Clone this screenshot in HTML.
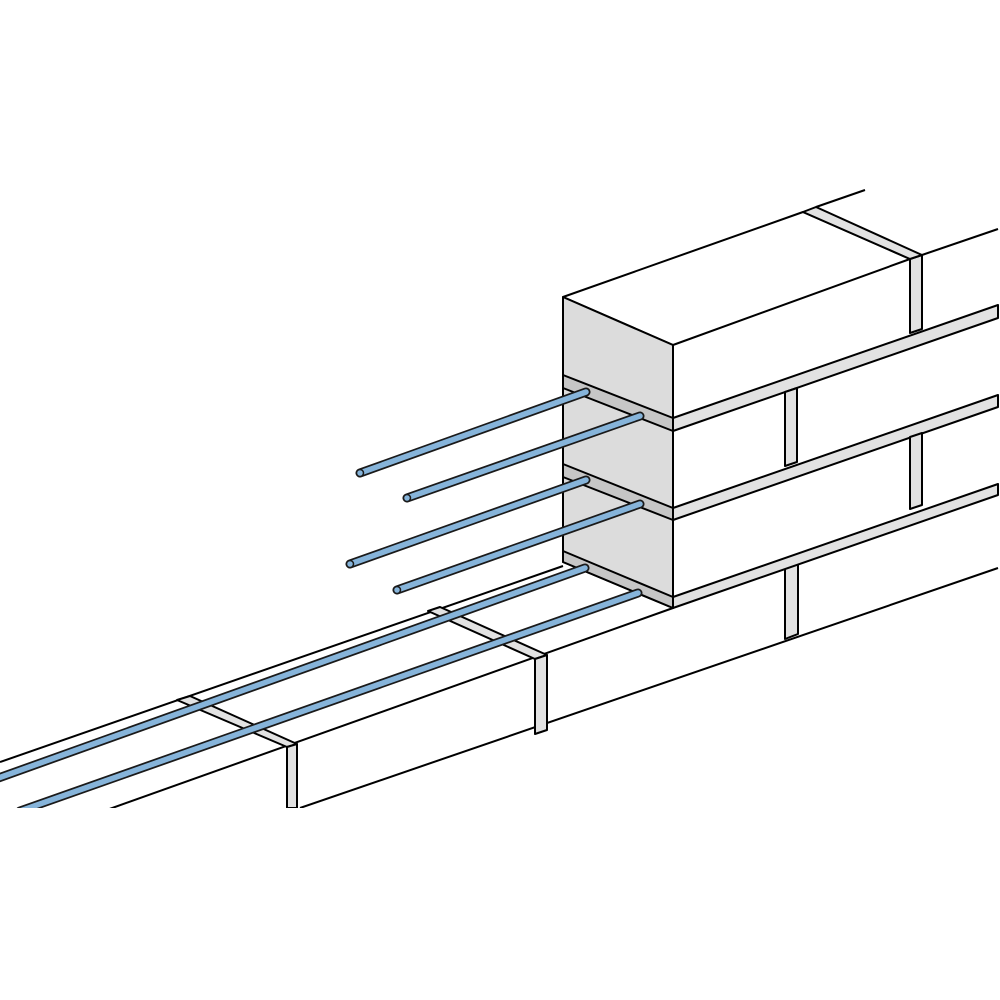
<!DOCTYPE html>
<html><head><style>html,body{margin:0;padding:0;background:#fff}svg{display:block}</style></head>
<body>
<svg width="1000" height="1000" viewBox="0 0 1000 1000" xmlns="http://www.w3.org/2000/svg">
<defs><clipPath id="c"><rect x="0" y="0" width="1000" height="808"/></clipPath></defs>
<g clip-path="url(#c)" stroke="#000" stroke-width="2" stroke-linejoin="round" fill="none">
<line x1="0" y1="762" x2="563" y2="566"/>
<line x1="0" y1="848" x2="673" y2="608"/>
<line x1="300" y1="808" x2="998" y2="568"/>
<polygon points="177,700 190,696 297,744 287,747" fill="#e2e2e2"/>
<polygon points="428,611 440,607 547,655 535,659" fill="#e2e2e2"/>
<polygon points="287,747 297,744 297,808 287,808" fill="#e2e2e2"/>
<polygon points="535,659 547,655 547,730 535,734" fill="#e2e2e2"/>
<polygon points="785,568 798,563 798,634 785,639" fill="#e2e2e2"/>
<polygon points="673,418 998,305 998,318 673,431" fill="#e2e2e2"/>
<polygon points="673,508 998,395 998,407 673,520" fill="#e2e2e2"/>
<polygon points="673,597 998,484 998,495 673,608" fill="#e2e2e2"/>
<polygon points="785,392 797,388 797,462 785,466" fill="#e2e2e2"/>
<polygon points="910,437 922,433 922,505 910,509" fill="#e2e2e2"/>
<polygon points="910,259 922,255 922,329 910,333" fill="#e2e2e2"/>
<line x1="922" y1="255" x2="998" y2="229"/>
<polygon points="563,297 803,212 910,259 673,345" fill="#fff"/>
<polygon points="803,212 816,207 922,255 910,259" fill="#e2e2e2"/>
<line x1="816" y1="207" x2="865" y2="190"/>
<line x1="673" y1="345" x2="673" y2="608"/>
<polygon points="563,297 673,345 673,608 563,562" fill="#dcdcdc"/>
<polygon points="563,375 673,418 673,431 563,388" fill="#c6c6c6"/>
<polygon points="563,464 673,508 673,520 563,477" fill="#c6c6c6"/>
<polygon points="563,551 673,597 673,608 563,562" fill="#c6c6c6"/>
</g>
<g clip-path="url(#c)" stroke-linecap="round">
<g stroke="#1a1a1a" stroke-width="9">
<line x1="360" y1="473" x2="586" y2="392"/>
<line x1="407" y1="498" x2="640" y2="416"/>
<line x1="350" y1="564" x2="586" y2="480"/>
<line x1="397" y1="590" x2="640" y2="504"/>
<line x1="-10" y1="781" x2="585" y2="568"/>
<line x1="20" y1="811" x2="638" y2="593"/>
</g>
<g stroke="#86b4da" stroke-width="5.5">
<line x1="360" y1="473" x2="586" y2="392"/>
<line x1="407" y1="498" x2="640" y2="416"/>
<line x1="350" y1="564" x2="586" y2="480"/>
<line x1="397" y1="590" x2="640" y2="504"/>
<line x1="-10" y1="781" x2="585" y2="568"/>
<line x1="20" y1="811" x2="638" y2="593"/>
</g>
<g fill="#86b4da" stroke="#1a1a1a" stroke-width="1.5">
<circle cx="360" cy="473" r="3.5"/>
<circle cx="407" cy="498" r="3.5"/>
<circle cx="350" cy="564" r="3.5"/>
<circle cx="397" cy="590" r="3.5"/>
</g>
</g>
</svg>
</body></html>
